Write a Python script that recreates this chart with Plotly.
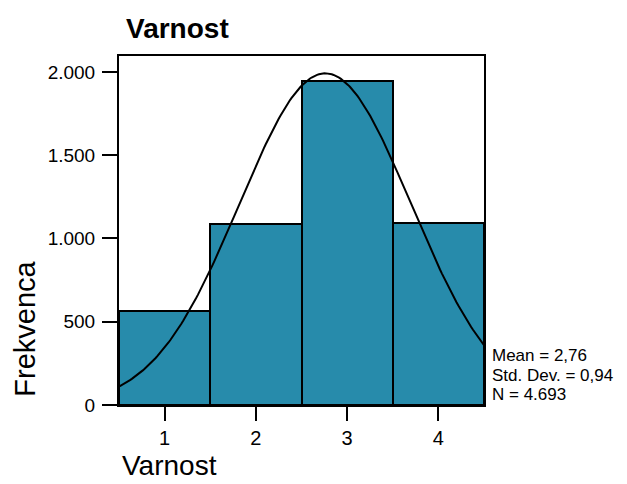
import numpy as np
import plotly.graph_objects as go

categories = [1, 2, 3, 4]
frequencies = [566, 1087, 1945, 1095]
mean_val = 2.76
std_val = 0.94
n_val = 4693
y_ticks = [0, 500, 1000, 1500, 2000]
y_tick_labels = ["0", "500", "1.000", "1.500", "2.000"]
stat_lines = ["Mean = 2,76", "Std. Dev. = 0,94", "N = 4.693"]

FONT = "Liberation Sans, Arial, sans-serif"
BAR_COLOR = "#278BAB"

xs = np.linspace(0.5, 4.5, 200)
curve = n_val * 1.0 / (std_val * np.sqrt(2 * np.pi)) * np.exp(-0.5 * ((xs - mean_val) / std_val) ** 2)

fig = go.Figure()
fig.add_trace(go.Bar(
    x=categories, y=frequencies, width=1.0,
    marker=dict(color=BAR_COLOR, line=dict(color="black", width=2)),
    showlegend=False, hoverinfo="skip",
))
fig.add_trace(go.Scatter(
    x=xs, y=curve, mode="lines",
    line=dict(color="black", width=2), showlegend=False, hoverinfo="skip",
))

fig.update_layout(
    width=619, height=476,
    margin=dict(l=111, r=143, t=48, b=79),
    paper_bgcolor="white", plot_bgcolor="white",
    font=dict(family=FONT, color="black"),
    bargap=0,
)
fig.update_xaxes(
    range=[0.5, 4.5], tickvals=categories, ticktext=[str(c) for c in categories],
    ticks="outside", ticklen=14, tickwidth=2, tickcolor="black",
    tickfont=dict(size=20, family=FONT),
    showline=True, linewidth=2, linecolor="black", mirror=True,
    showgrid=False, zeroline=False,
)
fig.update_yaxes(
    range=[0, 2096], tickvals=y_ticks, ticktext=y_tick_labels,
    ticks="outside", ticklen=15, tickwidth=2, tickcolor="black",
    tickfont=dict(size=19, family=FONT), ticklabelstandoff=3,
    showline=True, linewidth=2, linecolor="black", mirror=True,
    showgrid=False, zeroline=False,
)

fig.add_annotation(text="<b>Varnost</b>", xref="paper", yref="paper",
                   x=0.015, y=1.0, yshift=10, xanchor="left", yanchor="bottom",
                   showarrow=False, font=dict(size=28, family=FONT))
fig.add_annotation(text="Varnost", xref="paper", yref="paper",
                   x=0.003, y=0, yshift=-43, xanchor="left", yanchor="top",
                   showarrow=False, font=dict(size=28, family=FONT))
fig.add_annotation(text="Frekvenca", xref="paper", yref="paper",
                   x=0, xshift=-112, y=0.018, xanchor="left", yanchor="bottom",
                   textangle=-90, showarrow=False, font=dict(size=29, family=FONT))
for line, ypos in zip(stat_lines, [0.108, 0.052, -0.004]):
    fig.add_annotation(
        text=line, xref="paper", yref="paper", x=1.0, xshift=6, y=ypos,
        yanchor="bottom", xanchor="left", align="left", showarrow=False,
        font=dict(size=17, family=FONT))

fig.write_html("out.html")
